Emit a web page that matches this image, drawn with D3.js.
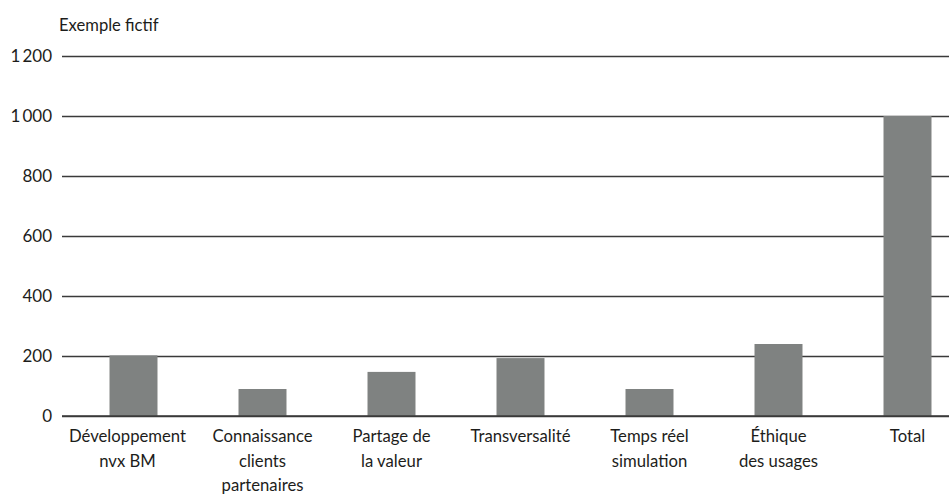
<!DOCTYPE html>
<html lang="fr">
<head>
<meta charset="UTF-8" />
<title>Exemple fictif</title>
<style>
  html, body { margin: 0; padding: 0; background: #fff; overflow: hidden; }
  svg { display: block; font-family: Lato, "Open Sans", sans-serif; }
  .tick text { fill: #1d1d1b; }
</style>
</head>
<body>
<svg id="chart"></svg>
<script src="https://d3js.org/d3.v7.min.js"></script>
<script>
  const categories = [
    ['Développement', 'nvx BM'],
    ['Connaissance', 'clients', 'partenaires'],
    ['Partage de', 'la valeur'],
    ['Transversalité'],
    ['Temps réel', 'simulation'],
    ['Éthique', 'des usages'],
    ['Total']
  ];
  const values = [202, 90, 147, 193, 90, 240, 1000];
  const yTicks = [0, 200, 400, 600, 800, 1000, 1200];

  const width = 949, height = 498;
  const svg = d3.select('#chart').attr('width', width).attr('height', height);

  const x = d3.scaleBand()
    .domain(d3.range(categories.length))
    .range([69, 972])
    .paddingInner(0.628)
    .paddingOuter(0.314);

  const y = d3.scaleLinear().domain([0, 1200]).range([416, 56]);

  // title
  svg.append('text')
    .attr('x', 59)
    .attr('y', 31)
    .attr('font-size', 16.6)
    .attr('fill', '#1d1d1b')
    .text('Exemple fictif');

  // gridlines + y labels
  const fmt = d => d >= 1000 ? d3.format(',')(d).replace(',', '\u2009') : String(d);
  const grid = svg.append('g')
    .attr('transform', 'translate(62,0)')
    .call(d3.axisLeft(y).tickValues(yTicks).tickSize(-(width - 62)).tickPadding(10).tickFormat(fmt));
  grid.select('.domain').remove();
  grid.selectAll('.tick line').attr('stroke', '#3a3a3a').attr('stroke-width', 1.4);
  grid.selectAll('.tick text').attr('font-size', 17).attr('font-family', 'Lato, sans-serif');

  // bars
  svg.append('g').selectAll('rect')
    .data(values)
    .join('rect')
    .attr('x', (d, i) => x(i))
    .attr('width', x.bandwidth())
    .attr('y', d => y(d))
    .attr('height', d => y(0) - y(d))
    .attr('fill', '#7f8281');

  // baseline over the bars
  svg.append('line')
    .attr('x1', 62).attr('x2', width)
    .attr('y1', y(0)).attr('y2', y(0))
    .attr('stroke', '#3a3a3a').attr('stroke-width', 1.4);

  // category labels
  const lab = svg.append('g').selectAll('text')
    .data(categories)
    .join('text')
    .attr('x', (d, i) => x(i) + x.bandwidth() / 2 - (i === 0 ? 6 : 0))
    .attr('y', 442)
    .attr('text-anchor', 'middle')
    .attr('font-size', 16.7)
    .attr('fill', '#1d1d1b');
  lab.selectAll('tspan')
    .data(d => d)
    .join('tspan')
    .attr('x', function () { return this.parentNode.getAttribute('x'); })
    .attr('dy', (d, i) => i === 0 ? 0 : 24.5)
    .text(d => d);
</script>
</body>
</html>
